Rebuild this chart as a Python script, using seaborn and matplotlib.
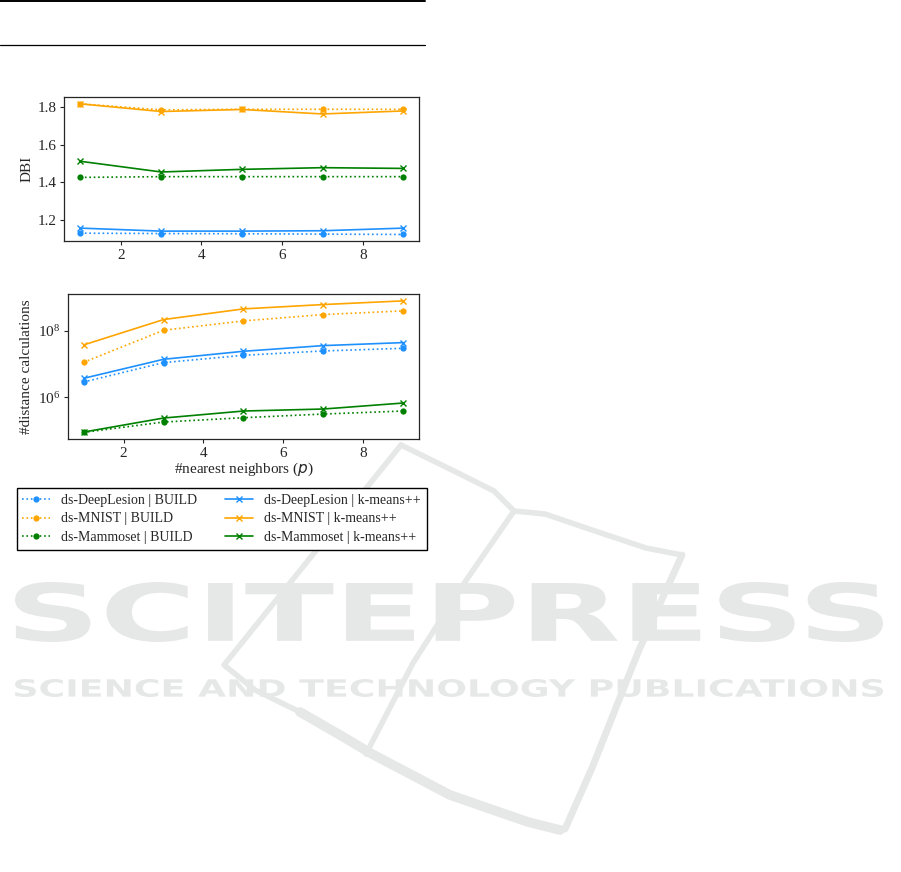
import numpy as np
import pandas as pd
import matplotlib
matplotlib.use("Agg")
import matplotlib.pyplot as plt
import seaborn as sns
from matplotlib.textpath import TextPath
from matplotlib.patches import PathPatch
from matplotlib.font_manager import FontProperties
from matplotlib.transforms import Affine2D
from matplotlib.ticker import FixedLocator, NullLocator

# data
neighbors = [1, 3, 5, 7, 9]
datasets = ["ds-DeepLesion", "ds-MNIST", "ds-Mammoset"]
colors = {"ds-DeepLesion": "dodgerblue", "ds-MNIST": "orange", "ds-Mammoset": "green"}

dbi_build = {
    "ds-DeepLesion": [1.127, 1.125, 1.124, 1.122, 1.120],
    "ds-MNIST": [1.818, 1.786, 1.789, 1.789, 1.789],
    "ds-Mammoset": [1.425, 1.429, 1.429, 1.429, 1.429],
}
dbi_kmeans = {
    "ds-DeepLesion": [1.154, 1.138, 1.138, 1.140, 1.154],
    "ds-MNIST": [1.818, 1.777, 1.788, 1.764, 1.780],
    "ds-Mammoset": [1.511, 1.454, 1.468, 1.477, 1.473],
}
# log10 of the number of distance calculations
dist_build_log = {
    "ds-DeepLesion": [6.46, 7.04, 7.26, 7.39, 7.47],
    "ds-MNIST": [7.05, 8.01, 8.29, 8.48, 8.59],
    "ds-Mammoset": [4.95, 5.26, 5.39, 5.50, 5.59],
}
dist_kmeans_log = {
    "ds-DeepLesion": [6.57, 7.14, 7.38, 7.55, 7.64],
    "ds-MNIST": [7.57, 8.33, 8.65, 8.78, 8.89],
    "ds-Mammoset": [4.96, 5.38, 5.59, 5.65, 5.83],
}

sns.set_style("ticks")
plt.rcParams["font.family"] = ["Liberation Serif", "DejaVu Serif"]
plt.rcParams["mathtext.fontset"] = "dejavusans"
plt.rcParams["font.size"] = 11

fig = plt.figure(figsize=(9.01, 8.72), dpi=100)

# page background: table rules and publisher watermark (pixel coords)
bg = fig.add_axes([0, 0, 1, 1], zorder=-5)
bg.set_xlim(0, 901)
bg.set_ylim(872, 0)
bg.axis("off")
bg.plot([0, 425], [1.5, 1.5], color="black", lw=1.4)
bg.plot([0, 425], [45, 45], color="black", lw=0.9)

wm = "#e6e8e7"
# the book-like swoosh
bg.plot([401, 224, 255, 300, 340, 372, 450, 528, 560],
        [445, 665, 690, 712, 735, 754, 795, 822, 830],
        color=wm, lw=4, solid_joinstyle="round", solid_capstyle="round")
bg.plot([300, 340, 372, 450, 528, 560], [712, 735, 754, 795, 822, 830],
        color=wm, lw=7, solid_capstyle="round")
bg.plot([401, 460, 494, 514, 545, 595, 646, 682],
        [445, 474, 491, 511, 514, 531, 548, 555], color=wm, lw=4,
        solid_joinstyle="round")
bg.plot([682, 639, 619, 592, 565], [555, 650, 700, 768, 829], color=wm, lw=5)
bg.plot([514, 467, 413, 366], [511, 579, 663, 754], color=wm, lw=4)


def watermark(text, x0, x1, y0, y1):
    tp = TextPath((0, 0), text, size=1, prop=FontProperties(family="DejaVu Sans", weight="bold"))
    bb = tp.get_extents()
    tr = (Affine2D().translate(-bb.x0, -bb.y0)
          .scale((x1 - x0) / bb.width, -(y1 - y0) / bb.height)
          .translate(x0, y1))
    bg.add_patch(PathPatch(tr.transform_path(tp), color=wm, lw=0))


watermark("SCITEPRESS", 15, 883, 582, 642)
watermark("SCIENCE AND TECHNOLOGY PUBLICATIONS", 15, 883, 679, 697)

ax1 = fig.add_axes([0.0714, 0.7236, 0.394, 0.1648])
ax2 = fig.add_axes([0.0751, 0.4966, 0.3902, 0.1659])

for ds in datasets:
    c = colors[ds]
    sns.lineplot(x=neighbors, y=dbi_build[ds], ax=ax1, color=c, linestyle=":",
                 marker="o", markersize=4.5, markeredgewidth=0, lw=1.2)
    sns.lineplot(x=neighbors, y=dbi_kmeans[ds], ax=ax1, color=c, linestyle="-",
                 marker="x", markersize=4.5, markeredgewidth=1, markeredgecolor=c, lw=1.2)
    sns.lineplot(x=neighbors, y=10 ** np.array(dist_build_log[ds]), ax=ax2, color=c,
                 linestyle=":", marker="o", markersize=4.5, markeredgewidth=0, lw=1.2,
                 label=f"{ds} | BUILD")
    sns.lineplot(x=neighbors, y=10 ** np.array(dist_kmeans_log[ds]), ax=ax2, color=c,
                 linestyle="-", marker="x", markersize=4.5, markeredgewidth=1,
                 markeredgecolor=c, lw=1.2, label=f"{ds} | k-means++")

ax1.set_ylabel("DBI", labelpad=3)
ax1.set_yticks([1.2, 1.4, 1.6, 1.8])
ax2.set_yscale("log")
ax2.yaxis.set_major_locator(FixedLocator([1e6, 1e8]))
ax2.yaxis.set_minor_locator(NullLocator())
ax2.set_ylabel("#distance calculations", labelpad=3)
ax2.set_xlabel("#nearest neighbors ($p$)", labelpad=1)
for ax in (ax1, ax2):
    ax.set_xticks([2, 4, 6, 8])
    ax.tick_params(labelsize=11, length=3, width=0.8, pad=2.5)
    for s in ax.spines.values():
        s.set_linewidth(0.9)
        s.set_visible(True)

h, l = ax2.get_legend_handles_labels()
ax2.get_legend().remove()
order = [0, 2, 4, 1, 3, 5]
fig.legend([h[i] for i in order], [l[i] for i in order], ncol=2, loc="upper left",
           bbox_to_anchor=(0.0185, 0.372, 0.455, 0.068), mode="expand",
           borderaxespad=0, fontsize=10, frameon=True, fancybox=False,
           edgecolor="black", framealpha=1, handlelength=2.0, handletextpad=0.8,
           labelspacing=0.4)

fig.savefig("out.png", dpi=100)
